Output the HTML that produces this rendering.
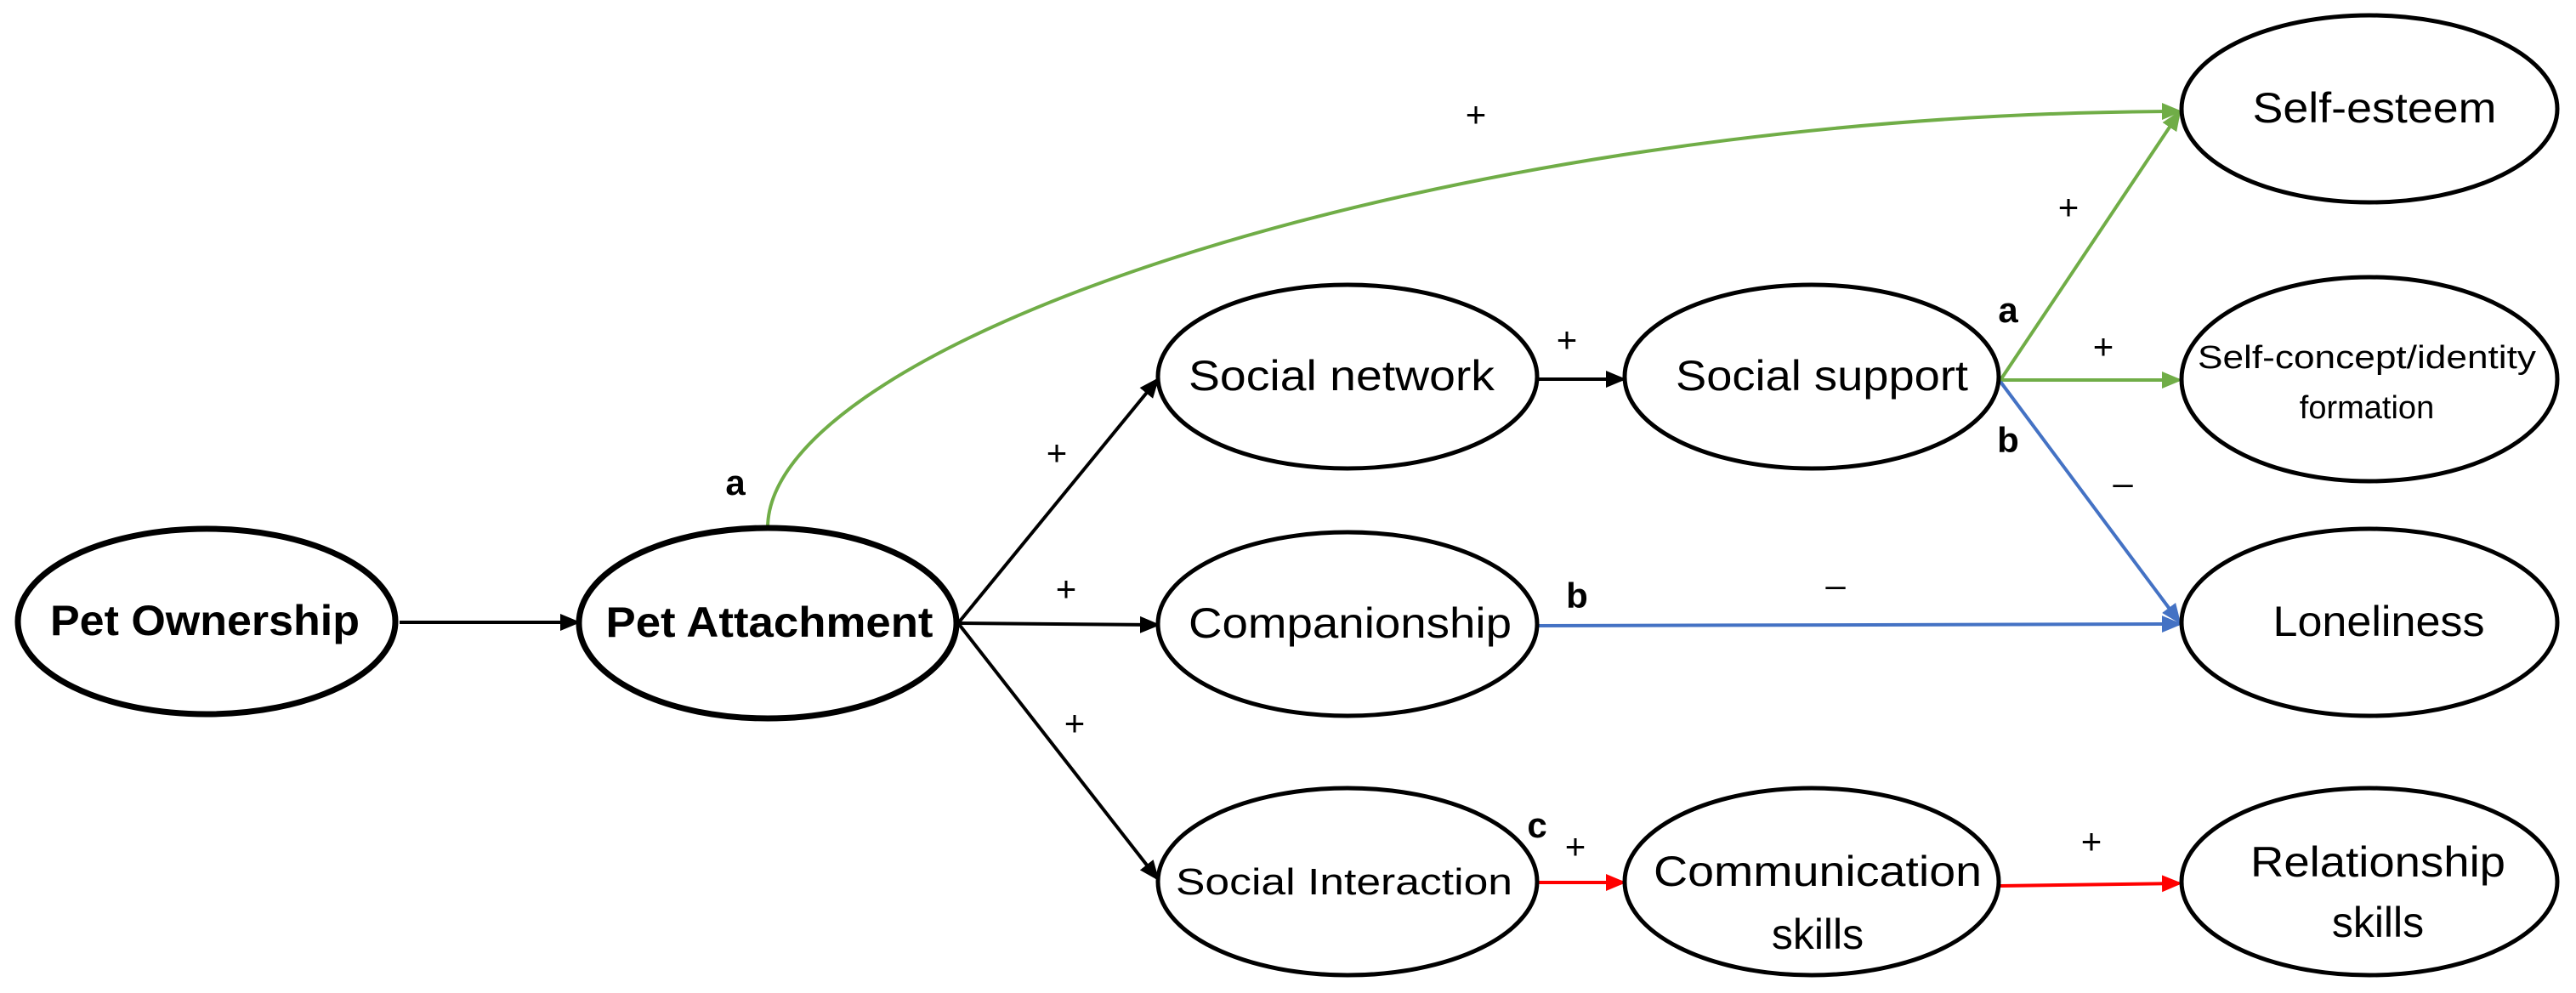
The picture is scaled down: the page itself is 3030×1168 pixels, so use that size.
<!DOCTYPE html>
<html><head><meta charset="utf-8"><style>html,body{margin:0;padding:0;background:#fff;overflow:hidden}svg{display:block}</style></head><body>
<svg width="3030" height="1168" viewBox="0 0 3030 1168" xmlns="http://www.w3.org/2000/svg" font-family="Liberation Sans, sans-serif">
<defs>
<marker id="ak" markerWidth="6" markerHeight="6" refX="5" refY="3" orient="auto" markerUnits="strokeWidth"><path d="M0,0.5 L6,3 L0,5.5 z" fill="#000"/></marker>
<marker id="ag" markerWidth="6" markerHeight="6" refX="5" refY="3" orient="auto" markerUnits="strokeWidth"><path d="M0,0.5 L6,3 L0,5.5 z" fill="#70ad47"/></marker>
<marker id="ab" markerWidth="6" markerHeight="6" refX="5" refY="3" orient="auto" markerUnits="strokeWidth"><path d="M0,0.5 L6,3 L0,5.5 z" fill="#4472c4"/></marker>
<marker id="ar" markerWidth="6" markerHeight="6" refX="5" refY="3" orient="auto" markerUnits="strokeWidth"><path d="M0,0.5 L6,3 L0,5.5 z" fill="#ff0000"/></marker>
</defs>
<g fill="none" stroke-width="4">
<line x1="470" y1="732" x2="679" y2="732" stroke="#000" marker-end="url(#ak)"/>
<line x1="1127" y1="733" x2="1361" y2="447" stroke="#000" marker-end="url(#ak)"/>
<line x1="1127" y1="733" x2="1361" y2="735" stroke="#000" marker-end="url(#ak)"/>
<line x1="1127" y1="733" x2="1361" y2="1033" stroke="#000" marker-end="url(#ak)"/>
<line x1="1810" y1="446" x2="1909" y2="446" stroke="#000" marker-end="url(#ak)"/>
<path d="M903,621 C903,401 1700,133 2563,131" stroke="#70ad47" marker-end="url(#ag)"/>
<line x1="2353" y1="447" x2="2563" y2="133" stroke="#70ad47" marker-end="url(#ag)"/>
<line x1="2353" y1="447" x2="2563" y2="447" stroke="#70ad47" marker-end="url(#ag)"/>
<line x1="2353" y1="449" x2="2563" y2="731" stroke="#4472c4" marker-end="url(#ab)"/>
<line x1="1810" y1="736" x2="2563" y2="734" stroke="#4472c4" marker-end="url(#ab)"/>
<line x1="1810" y1="1038" x2="1909" y2="1038" stroke="#ff0000" marker-end="url(#ar)"/>
<line x1="2353" y1="1042" x2="2563" y2="1039" stroke="#ff0000" marker-end="url(#ar)"/>
</g>
<g fill="#fff" stroke="#000">
<ellipse cx="243" cy="731" rx="222" ry="109" stroke-width="7"/>
<ellipse cx="903" cy="733" rx="222" ry="112" stroke-width="7"/>
<ellipse cx="1585" cy="443" rx="223" ry="108" stroke-width="5"/>
<ellipse cx="1585" cy="734" rx="223" ry="108" stroke-width="5"/>
<ellipse cx="1585" cy="1037" rx="223" ry="110" stroke-width="5"/>
<ellipse cx="2131" cy="443" rx="220" ry="108" stroke-width="5"/>
<ellipse cx="2131" cy="1037" rx="220" ry="110" stroke-width="5"/>
<ellipse cx="2787" cy="128" rx="221" ry="110" stroke-width="5"/>
<ellipse cx="2787" cy="446" rx="221" ry="120" stroke-width="5"/>
<ellipse cx="2787" cy="732" rx="221" ry="110" stroke-width="5"/>
<ellipse cx="2787" cy="1037" rx="221" ry="110" stroke-width="5"/>
</g>
<g fill="#000" font-size="50" text-anchor="middle">
<text x="241" y="747" font-weight="bold" textLength="364" lengthAdjust="spacingAndGlyphs">Pet Ownership</text>
<text x="905" y="749" font-weight="bold" textLength="385" lengthAdjust="spacingAndGlyphs">Pet Attachment</text>
<text x="1578" y="459" textLength="360" lengthAdjust="spacingAndGlyphs">Social network</text>
<text x="1588" y="750" textLength="380" lengthAdjust="spacingAndGlyphs">Companionship</text>
<text x="1581" y="1052" font-size="44" textLength="396" lengthAdjust="spacingAndGlyphs">Social Interaction</text>
<text x="2143" y="459" textLength="344" lengthAdjust="spacingAndGlyphs">Social support</text>
<text x="2138" y="1042" textLength="386" lengthAdjust="spacingAndGlyphs">Communication</text>
<text x="2138" y="1116">skills</text>
<text x="2793" y="144" textLength="287" lengthAdjust="spacingAndGlyphs">Self-esteem</text>
<text x="2784" y="433" font-size="38" textLength="398" lengthAdjust="spacingAndGlyphs">Self-concept/identity</text>
<text x="2784" y="492" font-size="38">formation</text>
<text x="2798" y="748" textLength="249" lengthAdjust="spacingAndGlyphs">Loneliness</text>
<text x="2797" y="1031" textLength="300" lengthAdjust="spacingAndGlyphs">Relationship</text>
<text x="2797" y="1102">skills</text>
</g>
<g fill="#000" font-size="42" text-anchor="middle">
<text x="865" y="582" font-weight="bold">a</text>
<text x="1243" y="547">+</text>
<text x="1254" y="707">+</text>
<text x="1264" y="865">+</text>
<text x="1736" y="149">+</text>
<text x="1843" y="414">+</text>
<text x="2362" y="379" font-weight="bold">a</text>
<text x="2433" y="258">+</text>
<text x="2474" y="422">+</text>
<text x="2362" y="532" font-weight="bold">b</text>
<text x="2497" y="582">–</text>
<text x="1855" y="715" font-weight="bold">b</text>
<text x="2159" y="702">–</text>
<text x="1808" y="985" font-weight="bold">c</text>
<text x="1853" y="1010">+</text>
<text x="2460" y="1004">+</text>
</g>
</svg>
</body></html>
